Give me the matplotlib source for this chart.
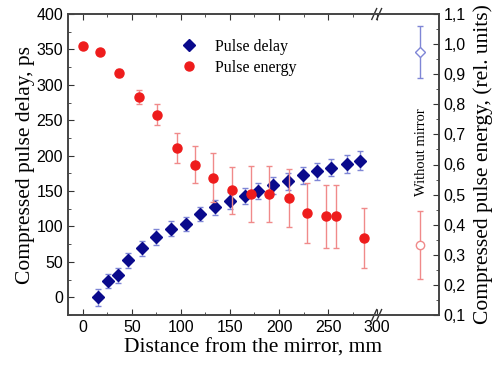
import numpy as np
import matplotlib
matplotlib.use("Agg")
from matplotlib import pyplot as plt
from matplotlib.ticker import MultipleLocator, FixedLocator

# pulse delay, left axis (ps)
delay_x = [16, 26, 36, 46, 60, 75, 90, 105, 120, 135, 150, 165, 179, 194, 209, 224, 239, 253, 269, 283]
delay_y = [0, 23, 31, 52, 69, 85, 97, 103, 118, 127, 136, 143, 150, 158, 164, 172, 178, 183, 188, 193]
delay_err = [12, 10, 11, 11, 10, 11, 11, 10, 10, 11, 12, 11, 11, 12, 12, 12, 12, 12, 13, 13]

# pulse energy, right axis (rel. units)
energy_x = [0, 18, 37, 57, 76, 96, 114, 133, 152, 171, 190, 210, 229, 248, 258, 287]
energy_y = [0.995, 0.975, 0.905, 0.823, 0.766, 0.655, 0.600, 0.556, 0.515, 0.502,
            0.502, 0.488, 0.439, 0.428, 0.428, 0.356]
energy_err = [0.004, 0.007, 0.013, 0.023, 0.034, 0.049, 0.062, 0.081, 0.078, 0.092,
              0.092, 0.097, 0.100, 0.105, 0.105, 0.099]

# reference points measured without mirror
ref_x = 344
ref_delay, ref_delay_err = 346, 37
ref_energy, ref_energy_err = 0.331, 0.113

x_ticks = [0, 50, 100, 150, 200, 250, 300]
break_x = 300

serif = "Liberation Serif"
sans = "Liberation Sans"
plt.rcParams["font.family"] = sans

blue = "#0a0a8c"
blue_err = "#7f86d6"
red = "#ee1c1c"
red_err = "#f08a8a"

fig = plt.figure(figsize=(4.96, 3.67), dpi=100)
ax = fig.add_axes([68 / 496, 1 - 315 / 367, (439 - 68) / 496, (315 - 14) / 367])
ax2 = ax.twinx()

ax.errorbar(delay_x, delay_y, yerr=delay_err, fmt="none", ecolor=blue_err,
            elinewidth=1, capsize=2.5, capthick=1)
h1, = ax.plot(delay_x, delay_y, "D", color=blue, markersize=6, label="Pulse delay")
ax.errorbar([ref_x], [ref_delay], yerr=[ref_delay_err], fmt="D", mfc="white",
            mec=blue_err, ecolor=blue_err, markersize=5, elinewidth=1, capsize=2.5)

ax2.errorbar(energy_x, energy_y, yerr=energy_err, fmt="none", ecolor=red_err,
             elinewidth=1, capsize=2.5, capthick=1)
h2, = ax2.plot(energy_x, energy_y, "o", color=red, markersize=6.5, label="Pulse energy")
ax2.errorbar([ref_x], [ref_energy], yerr=[ref_energy_err], fmt="o", mfc="white",
             mec=red_err, ecolor=red_err, markersize=6, elinewidth=1, capsize=2.5)

ax.set_xlim(-15, 363)
ax.set_ylim(-25, 400)
ax2.set_ylim(0.1, 1.1)

ax.xaxis.set_major_locator(FixedLocator(x_ticks))
ax.xaxis.set_minor_locator(FixedLocator([t + 25 for t in x_ticks[:-1]]))
ax.yaxis.set_major_locator(MultipleLocator(50))
ax.yaxis.set_minor_locator(MultipleLocator(25))
ax2.yaxis.set_major_locator(MultipleLocator(0.1))
ax2.yaxis.set_minor_locator(MultipleLocator(0.05))
ax2.set_yticklabels([f"{v:.1f}".replace(".", ",") for v in ax2.get_yticks()])

ax.tick_params(which="both", direction="in", top=True, labelsize=11.5, color="#333333")
ax.tick_params(which="major", length=4)
ax.tick_params(which="minor", length=2.5)
ax.tick_params(axis="x", which="both", top=True, labeltop=False)
ax2.tick_params(which="both", direction="in", labelsize=11.5, color="#333333")
ax2.tick_params(which="major", length=4)
ax2.tick_params(which="minor", length=2.5)

for a in (ax, ax2):
    for s in a.spines.values():
        s.set_color("#444444")
        s.set_linewidth(1.2)

# axis break marks
trans = ax.get_xaxis_transform()
for yb in (0, 1):
    for dx in (-3, 2):
        ax.plot([break_x + dx - 2.5, break_x + dx + 2.5], [yb - 0.018, yb + 0.018],
                color="#333333", lw=1, transform=trans, clip_on=False)

ax.text(ref_x + 1, 205, "Without mirror", rotation=90, ha="center", va="center",
        family=serif, fontsize=10.5)

ax.set_xlabel("Distance from the mirror, mm", family=serif, fontsize=15.5, labelpad=3)
ax.set_ylabel("Compressed pulse delay, ps", family=serif, fontsize=15.5, labelpad=1)
ax2.set_ylabel("Compressed pulse energy, (rel. units)", family=serif, fontsize=15.5, labelpad=5)

ax2.legend(handles=[h1, h2], loc="upper left", bbox_to_anchor=(0.255, 0.965),
           frameon=False, prop={"family": serif, "size": 11.5}, handletextpad=0.9,
           labelspacing=0.3, handlelength=1.5)

fig.savefig("out.png", dpi=100)
